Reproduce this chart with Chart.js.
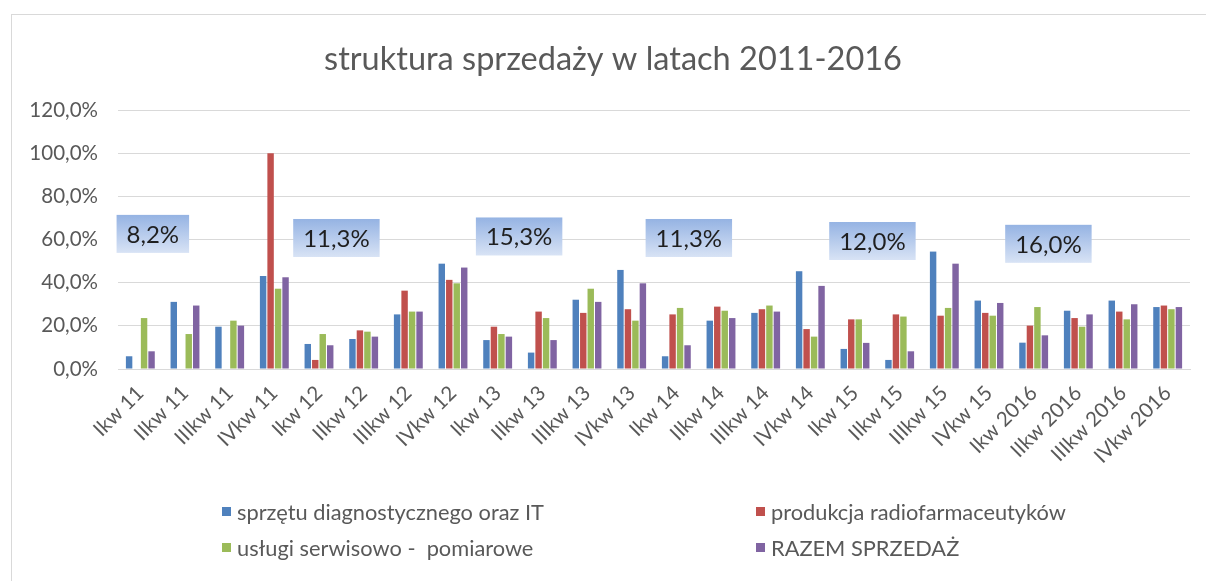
<!DOCTYPE html>
<html>
<head>
<meta charset="utf-8">
<title>struktura sprzedaży</title>
<script src="https://cdn.jsdelivr.net/npm/chart.js@4/dist/chart.umd.min.js"></script>
<style>
  html, body { margin: 0; padding: 0; background: #fff; }
  #wrap { position: relative; width: 1206px; height: 581px; overflow: hidden; }
  #frame { position: absolute; left: 11px; top: 14px; width: 1210px; height: 600px; border: 1.5px solid #d9d9d9; box-sizing: border-box; }
  canvas { position: absolute; left: 0; top: 0; }
  #legend { position: absolute; left: 222px; top: 497px; display: grid; grid-template-columns: 534px 320px; row-gap: 8px; font-family: Lato, sans-serif; font-size: 21.8px; color: #595959; }
  #legend .item { display: flex; align-items: center; height: 28px; white-space: pre; }
  #legend .box { width: 9px; height: 9px; margin-right: 6px; }
</style>
</head>
<body>
<div id="wrap">
  <div id="frame"></div>
  <canvas id="salesChart" width="1206" height="581"></canvas>
  <div id="legend"></div>
</div>
<script>
const quarters = [
  'Ikw 11', 'IIkw 11', 'IIIkw 11', 'IVkw 11',
  'Ikw 12', 'IIkw 12', 'IIIkw 12', 'IVkw 12',
  'Ikw 13', 'IIkw 13', 'IIIkw 13', 'IVkw 13',
  'Ikw 14', 'IIkw 14', 'IIIkw 14', 'IVkw 14',
  'Ikw 15', 'IIkw 15', 'IIIkw 15', 'IVkw 15',
  'Ikw 2016', 'IIkw 2016', 'IIIkw 2016', 'IVkw 2016'
];

const seriesNames = [
  'sprzętu diagnostycznego oraz IT',
  'produkcja radiofarmaceutyków',
  'usługi serwisowo -  pomiarowe',
  'RAZEM SPRZEDAŻ'
];

const diagnostyka = [5.9, 31.1, 19.6, 43.1, 11.6, 13.9, 25.3, 48.8, 13.4, 7.6, 32.1, 45.9, 5.9, 22.4, 26.0, 45.3, 9.3, 4.2, 54.4, 31.7, 12.2, 27.0, 31.7, 28.7];
const radiofarmaceutyki = [0, 0, 0, 100.0, 4.2, 17.9, 36.3, 41.3, 19.6, 26.6, 26.0, 27.7, 25.3, 28.9, 27.7, 18.5, 23.0, 25.3, 24.7, 26.0, 20.1, 23.6, 26.6, 29.4];
const uslugi = [23.6, 16.2, 22.4, 37.2, 16.2, 17.3, 26.6, 39.7, 16.2, 23.6, 37.2, 22.4, 28.3, 27.0, 29.4, 15.0, 23.0, 24.3, 28.3, 24.7, 28.7, 19.6, 23.0, 27.7];
const razem = [8.2, 29.4, 20.1, 42.5, 11.0, 15.0, 26.6, 47.0, 15.0, 13.4, 31.1, 39.7, 11.0, 23.6, 26.6, 38.5, 12.1, 8.2, 48.8, 30.6, 15.6, 25.3, 30.0, 28.7];

const yearTotals = ['8,2%', '11,3%', '15,3%', '11,3%', '12,0%', '16,0%'];
// where each year box sits: [category position, value]
const totalAnchors = [[0.28, 62.6], [4.39, 60.7], [8.48, 61.4], [12.28, 60.7], [16.39, 59.3], [20.33, 58.0]];

const yTicks = [0, 20, 40, 60, 80, 100, 120];

const colors = ['#4f81bd', '#c0504d', '#9bbb59', '#8064a2'];
const values = [diagnostyka, radiofarmaceutyki, uslugi, razem];

const chartTitle = 'struktura sprzedaży w latach 2011-2016';

function formatPercent(v) {
  return v.toFixed(1).replace('.', ',') + '%';
}

// title is drawn by hand so it can sit centred on the frame, not on the padded area
const titleText = {
  id: 'titleText',
  afterDraw(chart) {
    const ctx = chart.ctx;
    ctx.save();
    ctx.font = '32.5px Lato, sans-serif';
    ctx.fillStyle = '#595959';
    ctx.textAlign = 'center';
    ctx.textBaseline = 'middle';
    ctx.fillText(chartTitle, 613, 60);
    ctx.restore();
  }
};

// draws the blue boxes with the yearly figures
const yearBoxes = {
  id: 'yearBoxes',
  afterDatasetsDraw(chart) {
    const ctx = chart.ctx;
    const xs = chart.scales.x;
    const ys = chart.scales.y;
    ctx.save();
    ctx.font = '24px Lato, sans-serif';
    yearTotals.forEach((text, i) => {
      const pos = totalAnchors[i];
      const step = xs.getPixelForValue(1) - xs.getPixelForValue(0);
      const cx = xs.getPixelForValue(0) + pos[0] * step;
      const cy = ys.getPixelForValue(pos[1]);
      const w = ctx.measureText(text).width + 20;
      const h = 38;
      const grad = ctx.createLinearGradient(0, cy - h / 2, 0, cy + h / 2);
      grad.addColorStop(0, '#95b3e3');
      grad.addColorStop(1, '#d8e3f5');
      ctx.fillStyle = grad;
      ctx.fillRect(cx - w / 2, cy - h / 2, w, h);
      ctx.fillStyle = '#1f1f1f';
      ctx.textAlign = 'center';
      ctx.textBaseline = 'middle';
      ctx.fillText(text, cx, cy + 1);
    });
    ctx.restore();
  }
};

const ctx = document.getElementById('salesChart').getContext('2d');
const salesChart = new Chart(ctx, {
  type: 'bar',
  data: {
    labels: quarters,
    datasets: seriesNames.map((name, i) => ({
      label: name,
      data: values[i],
      backgroundColor: colors[i],
      borderWidth: 0,
      categoryPercentage: 0.67,
      barPercentage: 0.86
    }))
  },
  options: {
    responsive: false,
    animation: false,
    layout: { padding: { left: 20, right: 16, top: 110, bottom: 112 } },
    plugins: {
      legend: { display: false },
      tooltip: { enabled: false },
      title: { display: false }
    },
    scales: {
      y: {
        min: 0,
        max: 120,
        afterBuildTicks: (axis) => { axis.ticks = yTicks.map(v => ({ value: v })); },
        afterFit: (axis) => { axis.width = 98; },
        border: { display: false },
        grid: { color: '#d9d9d9', drawTicks: false },
        ticks: {
          padding: 20,
          color: '#595959',
          font: { family: 'Lato', size: 20.5 },
          callback: (v) => formatPercent(v)
        }
      },
      x: {
        afterFit: (axis) => { axis.height = 100; },
        border: { color: '#d9d9d9' },
        grid: { display: false },
        ticks: {
          minRotation: 45,
          maxRotation: 45,
          padding: 4,
          color: '#595959',
          font: { family: 'Lato', size: 20.5 }
        }
      }
    }
  },
  plugins: [yearBoxes, titleText]
});

// legend in two columns under the chart
const legendBox = document.getElementById('legend');
salesChart.data.datasets.forEach(ds => {
  const item = document.createElement('div');
  item.className = 'item';
  item.innerHTML = `<span class="box" style="background:${ds.backgroundColor}"></span><span>${ds.label}</span>`;
  legendBox.appendChild(item);
});
</script>
</body>
</html>
